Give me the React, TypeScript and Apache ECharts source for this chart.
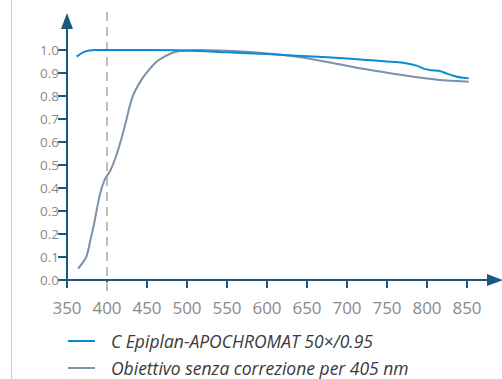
import React, { useEffect, useRef } from "react";
import * as echarts from "echarts";

const wavelengthsApo = [362, 370, 378, 385, 400, 450, 500, 550, 600, 650, 690, 720, 750, 770, 787, 797, 805, 815, 825, 835, 845, 852];
const valuesApo = [0.971, 0.99, 0.998, 1.0, 1.0, 1.0, 0.998, 0.99, 0.982, 0.973, 0.965, 0.958, 0.95, 0.944, 0.932, 0.918, 0.912, 0.91, 0.897, 0.886, 0.879, 0.877];

const wavelengthsStd = [364, 374, 379, 383, 391, 397, 404, 410, 416, 422, 432, 443, 454, 464, 482, 495, 510, 550, 591, 629, 660, 690, 720, 741, 783, 825, 852];
const valuesStd = [0.05, 0.1, 0.17, 0.23, 0.37, 0.435, 0.475, 0.525, 0.59, 0.666, 0.797, 0.87, 0.92, 0.955, 0.988, 0.996, 1.0, 0.997, 0.988, 0.975, 0.958, 0.938, 0.918, 0.906, 0.884, 0.867, 0.862];

const xTicks = [350, 400, 450, 500, 550, 600, 650, 700, 750, 800, 850];
const yTicks = [0, 0.1, 0.2, 0.3, 0.4, 0.5, 0.6, 0.7, 0.8, 0.9, 1.0];
const markerWavelength = 400;

const seriesNames = ["C Epiplan-APOCHROMAT 50×/0.95", "Obiettivo senza correzione per 405 nm"];

const AXIS_COLOR = "#1b5a7c";
const LABEL_COLOR = "#8a8a8a";

export default function App() {
  const ref = useRef<HTMLDivElement>(null);
  useEffect(() => {
    if (!ref.current) return;
    const chart = echarts.init(ref.current, undefined, { renderer: "svg" });
    const zip = (xs: number[], ys: number[]) => xs.map((x, i) => [x, ys[i]]);
    chart.setOption({
      animation: false,
      textStyle: { fontFamily: "Open Sans" },
      grid: { left: 67, right: 7, top: 21, bottom: 99, containLabel: false },
      xAxis: {
        type: "value",
        min: 350,
        max: 885,
        interval: 50,
        axisLine: {
          show: true,
          onZero: false,
          lineStyle: { color: AXIS_COLOR, width: 2 },
          symbol: ["none", "triangle"],
          symbolSize: [12, 16],
        },
        axisTick: { show: true, length: 8, lineStyle: { color: AXIS_COLOR, width: 2 }, customValues: xTicks },
        axisLabel: { color: LABEL_COLOR, fontSize: 17, margin: 19, customValues: xTicks, fontFamily: "Open Sans" },
        splitLine: { show: false },
      },
      yAxis: {
        type: "value",
        min: 0,
        max: 1.126,
        interval: 0.1,
        axisLine: {
          show: true,
          lineStyle: { color: AXIS_COLOR, width: 2 },
          symbol: ["none", "triangle"],
          symbolSize: [12, 16],
        },
        axisTick: { show: true, length: 9, lineStyle: { color: AXIS_COLOR, width: 2 }, customValues: yTicks },
        axisLabel: {
          color: LABEL_COLOR,
          fontSize: 13.5,
          margin: 8,
          customValues: yTicks,
          fontFamily: "Open Sans",
          formatter: (v: number) => v.toFixed(1),
        },
        splitLine: { show: false },
      },
      legend: {
        orient: "vertical",
        left: 68,
        top: 332,
        height: 60,
        padding: 0,
        itemWidth: 27,
        itemHeight: 2,
        itemGap: 9,
        icon: "rect",
        textStyle: {
          color: "#3a3a3a",
          fontSize: 17.5,
          lineHeight: 18,
          fontStyle: "italic",
          fontFamily: "Open Sans",
          padding: [0, 0, 0, 11],
        },
        data: seriesNames,
      },
      series: [
        {
          name: seriesNames[0],
          type: "line",
          data: zip(wavelengthsApo, valuesApo),
          symbol: "none",
          smooth: 0.3,
          lineStyle: { color: "#0a8ad4", width: 2 },
          itemStyle: { color: "#0a8ad4" },
          z: 3,
        },
        {
          name: seriesNames[1],
          type: "line",
          data: zip(wavelengthsStd, valuesStd),
          symbol: "none",
          smooth: 0.3,
          lineStyle: { color: "#7d91aa", width: 2 },
          itemStyle: { color: "#7d91aa" },
          z: 2,
        },
      ],
    });
    const px = chart.convertToPixel({ xAxisIndex: 0 }, markerWavelength) as number;
    chart.setOption({
      graphic: [
        {
          type: "line",
          shape: { x1: 11.5, y1: 0, x2: 11.5, y2: 379 },
          style: { stroke: "#cccccc", lineWidth: 1 },
          silent: true,
        },
        {
          type: "line",
          shape: { x1: px, y1: 12, x2: px, y2: 291 },
          style: { stroke: "#bdbdbd", lineWidth: 2, lineDash: [9, 6] },
          silent: true,
          z: 1,
        },
      ],
    });
    return () => chart.dispose();
  }, []);
  return <div ref={ref} style={{ width: 502, height: 379, position: "absolute", left: 0, top: 0 }} />;
}
